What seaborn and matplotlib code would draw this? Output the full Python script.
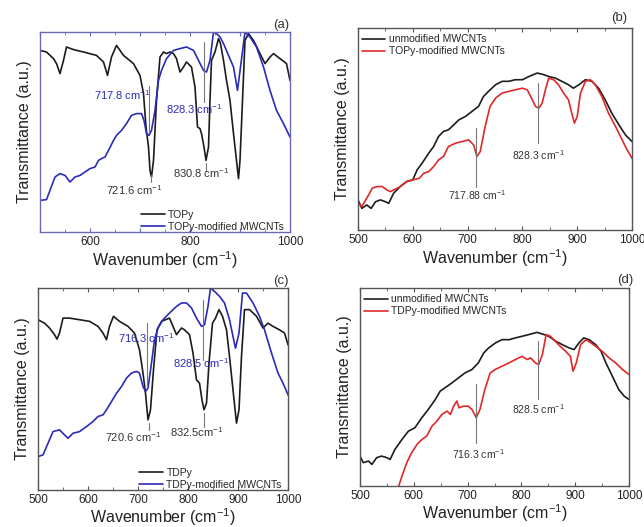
import numpy as np
import pandas as pd
import matplotlib
matplotlib.use("Agg")
import matplotlib.pyplot as plt
import seaborn as sns

sns.set_style("ticks")
plt.rcParams['font.family'] = ['Liberation Sans', 'DejaVu Sans']
plt.rcParams['mathtext.fontset'] = 'custom'
plt.rcParams['mathtext.rm'] = 'Liberation Sans'

# ---------------- Panel (a) ----------------
a_topy_x = [500, 513, 527, 533, 540, 547, 553, 567, 587, 613, 627, 635, 643, 653, 667, 687, 700, 707, 712, 717,
            720, 723, 727, 733, 740, 747, 753, 760, 767, 773, 780, 787, 793, 803, 810, 815, 820, 823, 828, 832,
            837, 840, 843, 850, 857, 861, 867, 873, 880, 887, 893, 897, 900, 905, 910, 917, 927, 940, 950, 960,
            967, 980, 993, 1000]
a_topy_y = [0.908, 0.900, 0.867, 0.842, 0.792, 0.858, 0.925, 0.912, 0.900, 0.883, 0.850, 0.783, 0.875, 0.933,
            0.883, 0.842, 0.783, 0.692, 0.525, 0.425, 0.308, 0.275, 0.358, 0.658, 0.875, 0.900, 0.892, 0.900,
            0.892, 0.867, 0.800, 0.825, 0.850, 0.825, 0.725, 0.525, 0.517, 0.492, 0.425, 0.358, 0.425, 0.658,
            0.858, 0.900, 0.967, 0.942, 0.858, 0.758, 0.658, 0.492, 0.358, 0.267, 0.358, 0.658, 0.958, 0.992,
            0.958, 0.892, 0.842, 0.875, 0.892, 0.867, 0.842, 0.758]
a_mod_x = [500, 513, 520, 530, 540, 550, 560, 570, 580, 590, 600, 610, 617, 623, 630, 637, 647, 653, 663, 673,
           683, 693, 703, 708, 713, 718, 723, 730, 737, 743, 753, 767, 780, 793, 807, 817, 827, 833, 840, 847,
           853, 860, 867, 877, 887, 895, 901, 910, 920, 933, 947, 960, 973, 987, 1000]
a_mod_y = [0.158, 0.162, 0.208, 0.275, 0.292, 0.283, 0.250, 0.275, 0.283, 0.300, 0.317, 0.325, 0.358, 0.367,
           0.375, 0.408, 0.458, 0.483, 0.508, 0.542, 0.583, 0.592, 0.592, 0.558, 0.492, 0.483, 0.508, 0.608,
           0.758, 0.808, 0.867, 0.908, 0.917, 0.925, 0.908, 0.858, 0.808, 0.800, 0.858, 1.000, 0.992, 0.975,
           0.942, 0.883, 0.825, 0.708, 0.825, 1.000, 0.975, 0.925, 0.825, 0.708, 0.608, 0.542, 0.475]

# ---------------- Panel (b) ----------------
b_unmod_x = [500, 507, 516, 524, 532, 541, 550, 556, 565, 577, 589, 600, 608, 617, 629, 638, 647, 656, 665, 675,
             684, 696, 708, 720, 729, 738, 751, 763, 775, 787, 800, 812, 827, 839, 848, 860, 872, 884, 893, 903,
             915, 927, 939, 951, 963, 976, 988, 1000]
b_unmod_y = [0.149, 0.107, 0.124, 0.107, 0.140, 0.149, 0.140, 0.132, 0.182, 0.215, 0.240, 0.248, 0.298, 0.331,
             0.380, 0.413, 0.463, 0.488, 0.496, 0.521, 0.545, 0.562, 0.587, 0.612, 0.661, 0.686, 0.719, 0.736,
             0.736, 0.744, 0.744, 0.760, 0.777, 0.769, 0.760, 0.752, 0.736, 0.719, 0.702, 0.719, 0.744, 0.736,
             0.702, 0.645, 0.579, 0.521, 0.471, 0.438]
b_mod_x = [500, 507, 516, 526, 535, 544, 553, 559, 565, 577, 589, 600, 612, 620, 629, 638, 647, 656, 665, 678,
           690, 702, 711, 717, 723, 732, 741, 751, 763, 775, 787, 800, 809, 815, 824, 830, 836, 842, 848, 857,
           866, 875, 884, 890, 895, 900, 906, 915, 924, 933, 945, 957, 970, 982, 991, 1000]
b_mod_y = [0.132, 0.116, 0.157, 0.207, 0.215, 0.215, 0.198, 0.190, 0.198, 0.215, 0.240, 0.248, 0.256, 0.281,
           0.289, 0.314, 0.347, 0.364, 0.413, 0.430, 0.438, 0.446, 0.421, 0.364, 0.388, 0.512, 0.612, 0.653,
           0.678, 0.686, 0.694, 0.702, 0.694, 0.661, 0.612, 0.603, 0.628, 0.694, 0.752, 0.744, 0.719, 0.678,
           0.645, 0.579, 0.529, 0.562, 0.678, 0.736, 0.744, 0.719, 0.661, 0.579, 0.512, 0.446, 0.397, 0.355]

# ---------------- Panel (c) ----------------
c_tdpy_x = [500, 513, 523, 533, 538, 543, 550, 563, 583, 603, 620, 630, 637, 643, 651, 663, 680, 693, 703, 710,
            715, 720, 725, 731, 738, 747, 755, 763, 770, 777, 787, 793, 803, 810, 817, 823, 828, 832, 837, 842,
            849, 855, 862, 869, 877, 883, 890, 897, 902, 907, 913, 923, 937, 950, 960, 970, 983, 993, 1000]
c_tdpy_y = [0.843, 0.826, 0.802, 0.769, 0.747, 0.777, 0.851, 0.851, 0.843, 0.835, 0.810, 0.777, 0.744, 0.810,
            0.860, 0.835, 0.810, 0.777, 0.694, 0.579, 0.479, 0.347, 0.397, 0.595, 0.793, 0.835, 0.843, 0.851,
            0.810, 0.769, 0.802, 0.793, 0.769, 0.678, 0.545, 0.529, 0.446, 0.397, 0.430, 0.628, 0.826, 0.851,
            0.893, 0.860, 0.793, 0.661, 0.496, 0.331, 0.397, 0.661, 0.893, 0.893, 0.860, 0.802, 0.826, 0.810,
            0.793, 0.777, 0.719]
c_mod_x = [500, 510, 520, 530, 543, 553, 560, 570, 583, 597, 610, 620, 630, 637, 647, 657, 667, 677, 687, 697,
           703, 710, 715, 720, 727, 733, 740, 750, 763, 777, 787, 797, 807, 817, 827, 833, 840, 845, 853, 863,
           873, 883, 890, 895, 902, 909, 917, 930, 943, 953, 967, 980, 990, 1000]
c_mod_y = [0.165, 0.174, 0.231, 0.289, 0.298, 0.273, 0.256, 0.281, 0.289, 0.314, 0.339, 0.364, 0.372, 0.397,
           0.438, 0.479, 0.512, 0.554, 0.579, 0.587, 0.579, 0.512, 0.488, 0.504, 0.628, 0.744, 0.802, 0.843,
           0.876, 0.909, 0.926, 0.926, 0.901, 0.851, 0.810, 0.818, 0.909, 1.000, 0.983, 0.959, 0.926, 0.843,
           0.760, 0.702, 0.777, 0.975, 0.975, 0.926, 0.860, 0.793, 0.678, 0.579, 0.529, 0.471]

# ---------------- Panel (d) ----------------
d_unmod_x = [500, 506, 516, 522, 531, 540, 550, 556, 565, 578, 590, 602, 615, 627, 640, 649, 658, 671, 683, 695,
             708, 720, 730, 739, 752, 764, 777, 789, 801, 814, 829, 842, 851, 864, 876, 889, 898, 907, 916, 926,
             938, 948, 957, 969, 981, 991, 1000]
d_unmod_y = [0.151, 0.118, 0.126, 0.109, 0.143, 0.151, 0.143, 0.134, 0.185, 0.235, 0.277, 0.294, 0.345, 0.387,
             0.437, 0.479, 0.496, 0.521, 0.546, 0.571, 0.588, 0.622, 0.672, 0.697, 0.723, 0.739, 0.739, 0.748,
             0.756, 0.765, 0.776, 0.765, 0.756, 0.731, 0.714, 0.697, 0.689, 0.723, 0.748, 0.739, 0.714, 0.681,
             0.622, 0.555, 0.487, 0.454, 0.437]
d_mod_x = [568, 578, 587, 596, 606, 615, 624, 634, 643, 652, 662, 668, 674, 680, 684, 692, 701, 708, 716, 723,
           732, 742, 751, 764, 777, 789, 801, 811, 817, 826, 832, 839, 846, 854, 863, 872, 882, 891, 896, 902,
           910, 920, 929, 938, 950, 963, 975, 988, 1000]
d_mod_y = [-0.034, 0.050, 0.118, 0.168, 0.210, 0.235, 0.252, 0.303, 0.328, 0.361, 0.378, 0.361, 0.403, 0.429,
           0.395, 0.403, 0.403, 0.387, 0.345, 0.387, 0.487, 0.571, 0.588, 0.605, 0.622, 0.639, 0.655, 0.639,
           0.647, 0.622, 0.613, 0.664, 0.765, 0.756, 0.731, 0.706, 0.681, 0.655, 0.580, 0.622, 0.714, 0.739,
           0.723, 0.706, 0.681, 0.647, 0.622, 0.588, 0.563]

BLACK = '#1c1c1c'
BLUE = '#2b2bb8'
RED = '#e02828'
GREY = '#777777'

W, H = 644, 527
fig = plt.figure(figsize=(W / 100, H / 100), dpi=100)


def add_axes(l, r, t, b):
    return fig.add_axes([l / W, 1 - b / H, (r - l) / W, (b - t) / H])


ax_a = add_axes(40, 290, 32, 232)
ax_b = add_axes(358, 632, 28, 230)
ax_c = add_axes(38, 288, 288, 490)
ax_d = add_axes(360, 629, 288, 486)


def draw(ax, xs, ys, color, label):
    df = pd.DataFrame({'Wavenumber': xs, 'T': ys})
    sns.lineplot(data=df, x='Wavenumber', y='T', ax=ax, color=color, lw=1.2, label=label,
                 sort=False, estimator=None)


def style(ax, spine_color, labels_every, xlabelpad=1):
    ax.set_xlim(500, 1000)
    ax.set_ylim(0, 1)
    ax.set_yticks([])
    ax.set_xticks(range(500, 1001, 100))
    if labels_every == 200:
        ax.set_xticklabels(['', '600', '', '800', '', '1000'])
    else:
        ax.set_xticklabels([str(v) for v in range(500, 1001, 100)])
    ax.set_xticks(range(550, 1000, 100), minor=True)
    ax.tick_params(axis='x', which='both', direction='in', top=True, labelsize=8.5,
                   colors=spine_color, labelcolor='#222222', pad=3)
    ax.tick_params(axis='x', which='major', length=3, width=0.8)
    ax.tick_params(axis='x', which='minor', length=2, width=0.6)
    for s in ax.spines.values():
        s.set_visible(True)
        s.set_color(spine_color)
        s.set_linewidth(1.0)
    ax.set_xlabel('Wavenumber (cm$^{-1}$)', fontsize=11.5, labelpad=xlabelpad, color='#222222')
    ax.set_ylabel('Transmittance (a.u.)', fontsize=11.5, labelpad=6, color='#222222')


def vline(ax, x, y0, y1, color=GREY):
    ax.plot([x, x], [y0, y1], color=color, lw=0.8)


# (a)
draw(ax_a, a_topy_x, a_topy_y, BLACK, 'TOPy')
draw(ax_a, a_mod_x, a_mod_y, BLUE, 'TOPy-modified MWCNTs')
style(ax_a, '#6a6ab4', 200)
vline(ax_a, 717, 0.50, 0.73)
vline(ax_a, 827, 0.65, 0.95)
vline(ax_a, 722, 0.25, 0.285)
vline(ax_a, 831, 0.305, 0.345)
ax_a.text(664, 0.685, '717.8 cm$^{-1}$', color=BLUE, fontsize=8, ha='center', va='center')
ax_a.text(808, 0.617, '828.3 cm$^{-1}$', color=BLUE, fontsize=8, ha='center', va='center')
ax_a.text(688, 0.208, '721.6 cm$^{-1}$', color='#333333', fontsize=8, ha='center', va='center')
ax_a.text(823, 0.292, '830.8 cm$^{-1}$', color='#333333', fontsize=8, ha='center', va='center')
ax_a.legend(loc='lower right', bbox_to_anchor=(1.0, -0.03), frameon=False, fontsize=7.5,
            handlelength=2.3, handletextpad=0.3, labelspacing=0.2, borderaxespad=0.2)
ax_a.text(0.965, 1.035, '(a)', transform=ax_a.transAxes, fontsize=9.5, ha='center', va='center',
          color='#333333')

# (b)
draw(ax_b, b_unmod_x, b_unmod_y, BLACK, 'unmodified MWCNTs')
draw(ax_b, b_mod_x, b_mod_y, RED, 'TOPy-modified MWCNTs')
style(ax_b, '#555555', 100)
vline(ax_b, 716, 0.215, 0.504)
vline(ax_b, 828, 0.430, 0.727)
ax_b.text(717, 0.174, '717.88 cm$^{-1}$', color='#333333', fontsize=7.5, ha='center', va='center')
ax_b.text(830, 0.372, '828.3 cm$^{-1}$', color='#333333', fontsize=7.5, ha='center', va='center')
ax_b.legend(loc='upper left', bbox_to_anchor=(-0.01, 1.0), frameon=False, fontsize=7.5,
            handlelength=2.3, handletextpad=0.3, labelspacing=0.2, borderaxespad=0.2)
ax_b.text(0.955, 1.05, '(b)', transform=ax_b.transAxes, fontsize=9.5, ha='center', va='center',
          color='#333333')

# (c)
draw(ax_c, c_tdpy_x, c_tdpy_y, BLACK, 'TDPy')
draw(ax_c, c_mod_x, c_mod_y, BLUE, 'TDPy-modified MWCNTs')
style(ax_c, '#555555', 100, xlabelpad=0)
vline(ax_c, 717, 0.512, 0.826)
vline(ax_c, 829, 0.645, 0.942)
vline(ax_c, 721, 0.298, 0.331)
vline(ax_c, 831, 0.314, 0.38)
ax_c.text(717, 0.752, '716.3 cm$^{-1}$', color=BLUE, fontsize=8, ha='center', va='center')
ax_c.text(827, 0.628, '828.5 cm$^{-1}$', color=BLUE, fontsize=8, ha='center', va='center')
ax_c.text(691, 0.264, '720.6 cm$^{-1}$', color='#333333', fontsize=8, ha='center', va='center')
ax_c.text(817, 0.289, '832.5cm$^{-1}$', color='#333333', fontsize=8, ha='center', va='center')
ax_c.legend(loc='lower right', bbox_to_anchor=(1.0, -0.03), frameon=False, fontsize=7.5,
            handlelength=2.3, handletextpad=0.3, labelspacing=0.2, borderaxespad=0.2)
ax_c.text(0.97, 1.035, '(c)', transform=ax_c.transAxes, fontsize=9.5, ha='center', va='center',
          color='#333333')

# (d)
draw(ax_d, d_unmod_x, d_unmod_y, BLACK, 'unmodified MWCNTs')
draw(ax_d, d_mod_x, d_mod_y, RED, 'TDPy-modified MWCNTs')
style(ax_d, '#555555', 100, xlabelpad=0)
vline(ax_d, 716, 0.218, 0.513)
vline(ax_d, 831, 0.437, 0.731)
ax_d.text(720, 0.160, '716.3 cm$^{-1}$', color='#333333', fontsize=7.5, ha='center', va='center')
ax_d.text(832, 0.387, '828.5 cm$^{-1}$', color='#333333', fontsize=7.5, ha='center', va='center')
ax_d.legend(loc='upper left', bbox_to_anchor=(-0.01, 1.0), frameon=False, fontsize=7.5,
            handlelength=2.3, handletextpad=0.3, labelspacing=0.2, borderaxespad=0.2)
ax_d.text(0.985, 1.04, '(d)', transform=ax_d.transAxes, fontsize=9.5, ha='center', va='center',
          color='#333333')

fig.savefig('out.png', dpi=100, facecolor='white')
